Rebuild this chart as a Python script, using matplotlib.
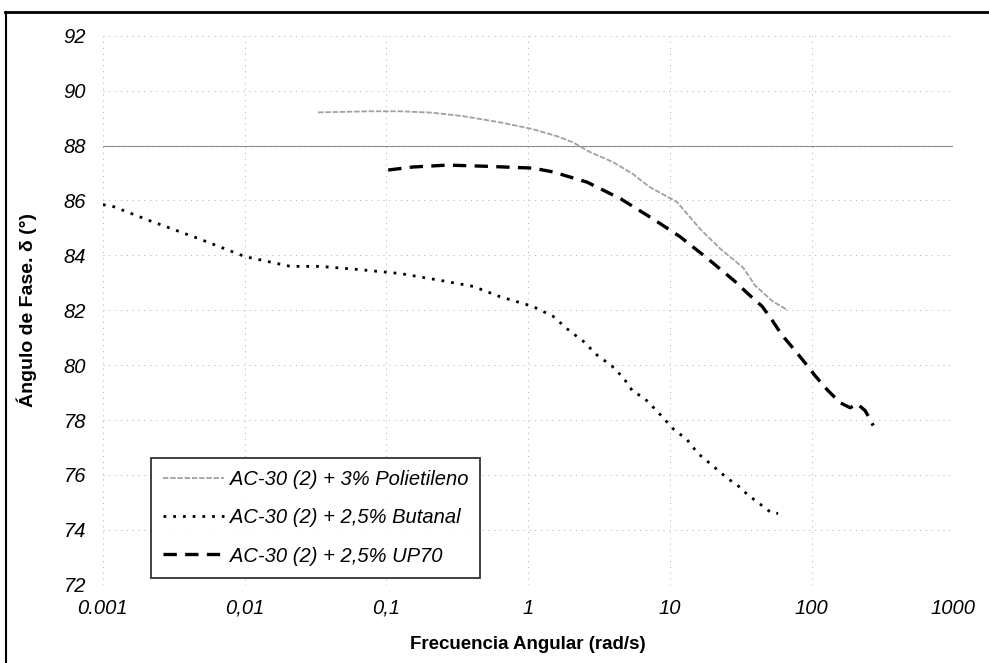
import numpy as np
import matplotlib
matplotlib.use("Agg")
import matplotlib.pyplot as plt
from matplotlib.lines import Line2D
from matplotlib.ticker import FixedLocator, FixedFormatter

plt.rcParams['font.family'] = ['Liberation Sans', 'DejaVu Sans']

# AC-30 (2) + 3% Polietileno
pe_x = [0.033, 0.077, 0.125, 0.21, 0.35, 0.63, 1.08, 1.6, 2.07, 2.74, 3.97,
        5.5, 7.2, 11.2, 16.3, 22.6, 32.9, 40, 53, 68]
pe_y = [89.21, 89.25, 89.25, 89.2, 89.07, 88.85, 88.6, 88.34, 88.12, 87.76, 87.4,
        86.96, 86.49, 85.95, 84.97, 84.25, 83.55, 82.9, 82.33, 82.0]

# AC-30 (2) + 2.5% Butanal
bu_x = [0.001, 0.0012, 0.00215, 0.0048, 0.01, 0.021, 0.034, 0.062, 0.125, 0.24,
        0.41, 0.63, 1.08, 1.5, 1.97, 2.44, 3.06, 3.9, 4.7, 5.5, 6.4, 7.0, 8.7,
        10.5, 13.2, 15.8, 19.9, 24.5, 27.9, 31.3, 35, 43, 52, 58]
bu_y = [85.85, 85.77, 85.26, 84.6, 83.96, 83.6, 83.6, 83.49, 83.34, 83.09,
        82.87, 82.5, 82.14, 81.78, 81.24, 80.88, 80.37, 79.97, 79.54, 79.03, 78.85, 78.67, 78.16,
        77.69, 77.29, 76.78, 76.35, 75.95, 75.73, 75.55, 75.3, 74.95, 74.62, 74.6]

# AC-30 (2) + 2.5% UP70
up_x = [0.103, 0.154, 0.27, 0.48, 1.08, 1.5, 2.6, 4.5, 7.6, 11.8, 18.5, 23.3,
        28.8, 35.6, 44.8, 52.6, 61.9, 74, 90, 106, 129, 159, 187, 210, 239, 272]
up_y = [87.11, 87.22, 87.29, 87.25, 87.18, 87.04, 86.67, 86.06, 85.33, 84.68, 83.88, 83.45,
        83.05, 82.6, 82.14, 81.64, 81.09, 80.62, 80.08, 79.61, 79.1, 78.63, 78.45, 78.59, 78.34, 77.8]

x_ticks = [0.001, 0.01, 0.1, 1, 10, 100, 1000]
x_labels = ['0.001', '0,01', '0,1', '1', '10', '100', '1000']
y_ticks = list(range(72, 93, 2))

fig = plt.figure(figsize=(9.89, 6.63), dpi=100)
ax = fig.add_axes([0.104, 0.118, 0.86, 0.828])

ax.set_xscale('log')
ax.set_xlim(0.001, 1000)
ax.set_ylim(72, 92)

for s in ax.spines.values():
    s.set_visible(False)

ax.xaxis.set_major_locator(FixedLocator(x_ticks))
ax.xaxis.set_major_formatter(FixedFormatter(x_labels))
ax.xaxis.set_minor_locator(FixedLocator([]))
ax.set_yticks(y_ticks)
ax.tick_params(length=0, labelsize=14.5)
ax.tick_params(axis='x', pad=10)
ax.tick_params(axis='y', pad=12)
for lab in ax.get_xticklabels() + ax.get_yticklabels():
    lab.set_fontstyle('italic')

ax.grid(True, which='major', color='#aaaaaa', linestyle=(0, (1, 5)), linewidth=0.7)
ax.axhline(88, color='#888888', linewidth=0.8, zorder=1)

ax.plot(pe_x, pe_y, color='#a0a0a0', linewidth=1.3, linestyle=(0, (3, 1)),
        label='AC-30 (2) + 3% Polietileno')
ax.plot(bu_x, bu_y, color='black', linewidth=2.0, linestyle=(0, (1, 2.5)),
        label='AC-30 (2) + 2,5% Butanal')
ax.plot(up_x, up_y, color='black', linewidth=2.4, linestyle=(0, (4, 2.5)),
        label='AC-30 (2) + 2,5% UP70')

leg = ax.legend(loc='lower left', bbox_to_anchor=(0.057, 0.013), fontsize=14.5,
                frameon=True, fancybox=False, edgecolor='black', handlelength=3.0,
                labelspacing=0.95, borderpad=0.6, handletextpad=0.3, borderaxespad=0.0)
leg.get_frame().set_linewidth(1.3)
for t in leg.get_texts():
    t.set_fontstyle('italic')

ax.set_xlabel('Frecuencia Angular (rad/s)', fontsize=13.5, fontweight='bold')
ax.xaxis.set_label_coords(0.5, -0.093)
ax.set_ylabel('Ángulo de Fase. δ (°)', fontsize=14, fontweight='bold')
ax.yaxis.set_label_coords(-0.078, 0.5)

# scanned page frame
fig.add_artist(Line2D([0.005, 1.0], [0.982, 0.982], transform=fig.transFigure,
                      color='black', linewidth=2))
fig.add_artist(Line2D([0.006, 0.006], [0.0, 0.982], transform=fig.transFigure,
                      color='black', linewidth=1.5))

fig.savefig('out.png', dpi=100)
